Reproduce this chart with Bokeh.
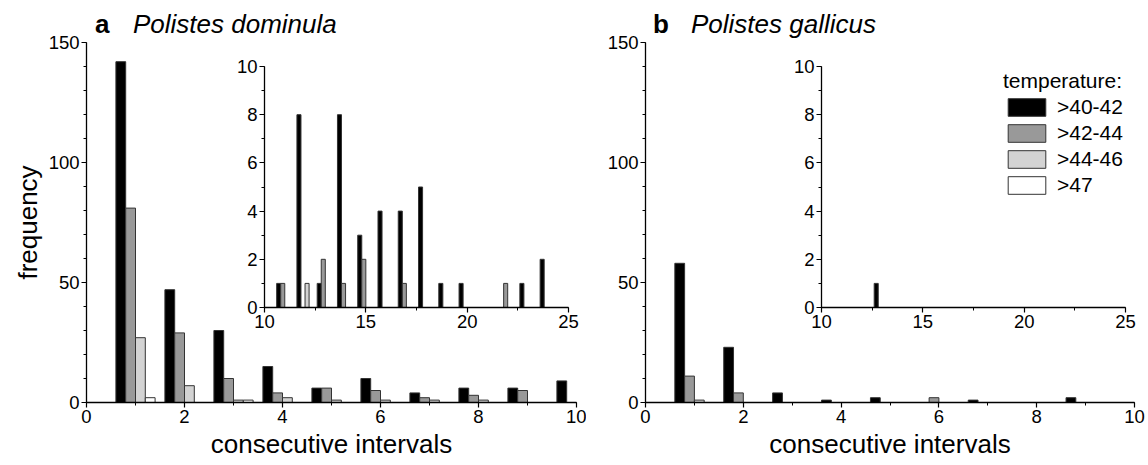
from bokeh.plotting import figure
from bokeh.models import (ColumnDataSource, Range1d, SingleIntervalTicker, Legend,
                          LegendItem, Row, Div)
from bokeh.transform import dodge
from bokeh.embed import file_html
from bokeh.resources import INLINE

FONT = "Liberation Sans"

# ---------------- data ----------------
temperatures = [">40-42", ">42-44", ">44-46", ">47"]

intervals = [1, 2, 3, 4, 5, 6, 7, 8, 9, 10]
inset_intervals = [11, 12, 13, 14, 15, 16, 17, 18, 19, 20, 21, 22, 23, 24]

# Polistes dominula (a)
dom_40_42 = [142, 47, 30, 15, 6, 10, 4, 6, 6, 9]
dom_42_44 = [81, 29, 10, 4, 6, 5, 2, 3, 5, 0]
dom_44_46 = [27, 7, 1, 2, 1, 1, 1, 1, 0, 0]
dom_47 = [2, 0, 1, 0, 0, 0, 0, 0, 0, 0]

dom_in_40_42 = [1, 8, 1, 8, 3, 4, 4, 5, 1, 1, 0, 0, 1, 2]
dom_in_42_44 = [1, 0, 2, 1, 2, 0, 1, 0, 0, 0, 0, 1, 0, 0]
dom_in_44_46 = [0, 1, 0, 0, 0, 0, 0, 0, 0, 0, 0, 0, 0, 0]
dom_in_47 = [0, 0, 0, 0, 0, 0, 0, 0, 0, 0, 0, 0, 0, 0]

# Polistes gallicus (b)
gal_40_42 = [58, 23, 4, 1, 2, 0, 1, 0, 2, 0]
gal_42_44 = [11, 4, 0, 0, 0, 2, 0, 0, 0, 0]
gal_44_46 = [1, 0, 0, 0, 0, 0, 0, 0, 0, 0]
gal_47 = [0, 0, 0, 0, 0, 0, 0, 0, 0, 0]

gal_in_40_42 = [0, 0, 1, 0, 0, 0, 0, 0, 0, 0, 0, 0, 0, 0]
gal_in_42_44 = [0, 0, 0, 0, 0, 0, 0, 0, 0, 0, 0, 0, 0, 0]
gal_in_44_46 = [0, 0, 0, 0, 0, 0, 0, 0, 0, 0, 0, 0, 0, 0]
gal_in_47 = [0, 0, 0, 0, 0, 0, 0, 0, 0, 0, 0, 0, 0, 0]

# ---------------- style ----------------
fills = ["#000000", "#999999", "#d3d3d3", "#ffffff"]
offsets = [-0.3, -0.1, 0.1, 0.3]
BAR_W = 0.2
TICK_SIZE = "18.5px"
LABEL_SIZE = "26px"


def add_bars(p, xs, series):
    rends = []
    for vals, fill, off in zip(series, fills, offsets):
        src = ColumnDataSource(dict(x=xs, top=vals))
        r = p.vbar(x=dodge("x", off), top="top", bottom=0, width=BAR_W, source=src,
                   fill_color=fill, line_color="#333333", line_width=1)
        rends.append(r)
    return rends


def style(p, xint, xminor, yint, yminor):
    p.xaxis.ticker = SingleIntervalTicker(interval=xint, num_minor_ticks=xminor)
    p.yaxis.ticker = SingleIntervalTicker(interval=yint, num_minor_ticks=yminor)
    p.grid.visible = False
    p.outline_line_color = None
    for ax in p.axis:
        ax.axis_line_width = 1.3
        ax.axis_line_color = "black"
        ax.major_tick_line_color = "black"
        ax.minor_tick_line_color = "black"
        ax.major_tick_line_width = 1.2
        ax.minor_tick_line_width = 1
        ax.major_tick_out = 5
        ax.major_tick_in = 0
        ax.minor_tick_out = 3
        ax.minor_tick_in = 0
        ax.major_label_text_font = FONT
        ax.major_label_text_font_size = TICK_SIZE
        ax.major_label_text_color = "black"
        ax.major_label_standoff = 2
        ax.axis_label_text_font = FONT
        ax.axis_label_text_font_size = LABEL_SIZE
        ax.axis_label_text_font_style = "normal"
        ax.axis_label_text_color = "black"
        ax.axis_label_standoff = 3


def main_fig(width, left, right):
    p = figure(width=width, height=465, x_range=Range1d(0, 10), y_range=Range1d(0, 150),
               min_border_left=left, min_border_right=right, min_border_top=42,
               min_border_bottom=63, output_backend="svg", toolbar_location=None,
               title_location=None)
    style(p, 2, 2, 50, 5)
    p.xaxis.axis_label = "consecutive intervals"
    return p


# plots in one Row share their top/bottom borders (42 / 63 px), so the inset
# figures use the same borders and a height that gives them the wanted frame
def inset_fig(left_px, top_px):
    p = figure(width=352, height=346, x_range=Range1d(10, 25), y_range=Range1d(0, 10),
               min_border_left=34, min_border_right=14, min_border_top=42,
               min_border_bottom=63, output_backend="svg", toolbar_location=None,
               title_location=None,
               background_fill_color=None, border_fill_color=None,
               styles={"position": "absolute", "left": f"{left_px}px", "top": f"{top_px}px"})
    style(p, 5, 2, 2, 2)
    return p


def text_div(txt, left_px, top_px, weight="normal", fstyle="normal", width=40):
    return Div(text=txt, width=width, height=30,
               styles={"position": "absolute", "left": f"{left_px}px", "top": f"{top_px}px",
                       "font-family": FONT, "font-size": LABEL_SIZE, "line-height": "26px",
                       "font-weight": weight, "font-style": fstyle, "color": "black",
                       "white-space": "nowrap", "margin": "0", "padding": "0"})


# panel a
pa = main_fig(586, 86, 10)
pa.yaxis.axis_label = "frequency"
add_bars(pa, intervals, [dom_40_42, dom_42_44, dom_44_46, dom_47])

INSET_TOP = 24
ia = inset_fig(230, INSET_TOP)
add_bars(ia, inset_intervals, [dom_in_40_42, dom_in_42_44, dom_in_44_46, dom_in_47])

# panel b
pb = main_fig(562, 59, 14)
rb = add_bars(pb, intervals, [gal_40_42, gal_42_44, gal_44_46, gal_47])

legend = Legend(items=[LegendItem(label=t, renderers=[r]) for t, r in zip(temperatures, rb)],
                location=(358, 205), title="temperature:")
legend.title_text_font = FONT
legend.title_text_font_size = "21px"
legend.title_text_font_style = "normal"
legend.title_text_color = "black"
legend.title_standoff = 2
legend.label_text_font = FONT
legend.label_text_font_size = "21px"
legend.label_text_color = "black"
legend.glyph_width = 47
legend.glyph_height = 22
legend.label_standoff = 7
legend.spacing = 2
legend.padding = 0
legend.margin = 0
legend.border_line_color = None
legend.background_fill_alpha = 0
pb.add_layout(legend)

ib = inset_fig(787, INSET_TOP)
add_bars(ib, inset_intervals, [gal_in_40_42, gal_in_42_44, gal_in_44_46, gal_in_47])

titles = [
    text_div("a", 95, 11, weight="bold"),
    text_div("Polistes dominula", 133, 11, fstyle="italic", width=240),
    text_div("b", 653, 11, weight="bold"),
    text_div("Polistes gallicus", 691, 11, fstyle="italic", width=240),
]

layout = Row(children=[pa, pb, ia, ib] + titles, spacing=0, styles={"position": "relative"})

p = layout
open("out.html", "w").write(file_html(p, INLINE))
